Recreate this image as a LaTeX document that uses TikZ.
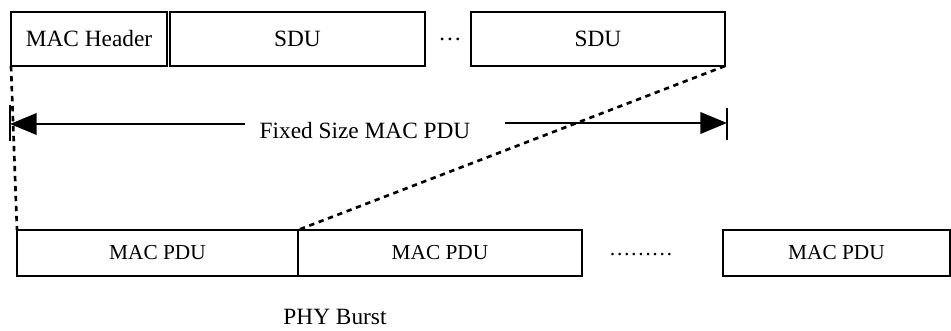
\documentclass[tikz,border=0pt]{standalone}
\usepackage{fontspec}
\setmainfont{Liberation Serif}
\usetikzlibrary{arrows.meta}

\begin{document}
\begin{tikzpicture}[x=0.75pt,y=-0.75pt,
		field/.style={draw, line width=1.5pt, inner sep=0pt, outer sep=0pt, minimum height=54*0.75pt, font=\fontsize{17.5}{20}\selectfont},
		pdubox/.style={draw, line width=1.5pt, inner sep=0pt, outer sep=0pt, minimum height=46*0.75pt, font=\fontsize{16}{19}\selectfont},
		link/.style={line width=2pt, dash pattern=on 4pt off 3.5pt},
		sizearrow/.style={line width=2pt, -{Triangle[length=20pt,width=16pt]}}]
		\useasboundingbox (0,0) rectangle (951,331);
		% MAC PDU fields
		\node[field, minimum width=156*0.75pt] (hdr) at (89,39) {MAC Header};
		\node[field, minimum width=255*0.75pt] (sdua) at (297.5,39) {SDU};
		\node[font=\fontsize{17.5}{20}\selectfont] (dotsa) at (450,39) {\dots};
		\node[field, minimum width=254*0.75pt] (sdub) at (598,39) {SDU};
		% fixed size
		\coordinate (barla) at (10,105);
		\coordinate (barlb) at (10,141);
		\coordinate (barra) at (727,108);
		\coordinate (barrb) at (727,140);
		\draw [line width=1.5pt] (barla) -- (barlb);
		\draw [line width=1.5pt] (barra) -- (barrb);
		\node[font=\fontsize{17.5}{20}\selectfont] (fixed) at (365,131) {Fixed Size MAC PDU};
		\coordinate (arrl) at (245,124);
		\coordinate (arrr) at (505,123);
		\draw [sizearrow] (arrl) -- (10,124);
		\draw [sizearrow] (arrr) -- (727,123);
		% PHY burst
		\node[pdubox, minimum width=281*0.75pt] (pdua) at (157.5,253) {MAC PDU};
		\node[pdubox, minimum width=284*0.75pt] (pdub) at (440,253) {MAC PDU};
		\node[font=\fontsize{16}{19}\selectfont] (dotsb) at (641,255) {\dots\dots\dots};
		\node[pdubox, minimum width=227*0.75pt] (pduc) at (836.5,253) {MAC PDU};
		\node[font=\fontsize{17.5}{20}\selectfont] (phy) at (335,317) {PHY Burst};
		\draw [link] (hdr.south west) -- (pdua.north west);
		\draw [link] (sdub.south east) -- (pdua.north east);
		\end{tikzpicture}
\end{document}
